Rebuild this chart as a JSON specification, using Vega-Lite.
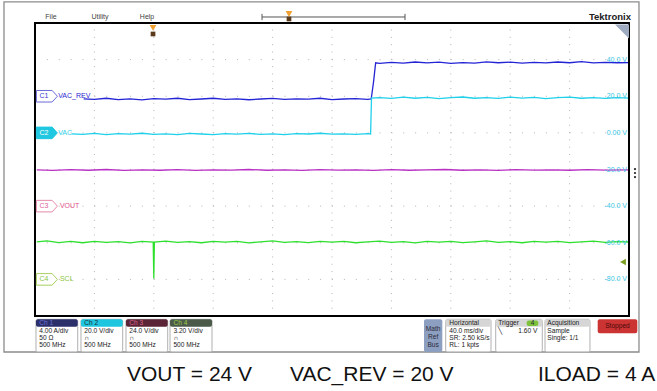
{
 "$schema": "https://vega.github.io/schema/vega-lite/v6.json",
 "width": 657, "height": 391,
 "autosize": {"type": "fit", "contains": "padding"},
 "padding": 0,
 "background": "white",
 "config": {"view": {"stroke": null}, "text": {"font": "Liberation Sans"}},
 "datasets": {
  "border": [{"x": -0.522, "x2": 10.168, "y": 71.5, "y2": -119.66}],
  "frame": [{"x": 0, "x2": 10, "y": -100, "y2": 60}],
  "gridv": [{"x":1,"y":-100,"y2":60},{"x":2,"y":-100,"y2":60},{"x":3,"y":-100,"y2":60},{"x":4,"y":-100,"y2":60},{"x":5,"y":-100,"y2":60},{"x":6,"y":-100,"y2":60},{"x":7,"y":-100,"y2":60},{"x":8,"y":-100,"y2":60},{"x":9,"y":-100,"y2":60}],
  "gridh": [{"x":0,"x2":10,"y":40},{"x":0,"x2":10,"y":20},{"x":0,"x2":10,"y":0},{"x":0,"x2":10,"y":-20},{"x":0,"x2":10,"y":-40},{"x":0,"x2":10,"y":-60},{"x":0,"x2":10,"y":-80}],
  "traces": [
   {"ch":"C1","x":0.82,"y":18.6},{"ch":"C1","x":1.0,"y":18.3},{"ch":"C1","x":1.2,"y":18.9},{"ch":"C1","x":1.4,"y":18.2},{"ch":"C1","x":1.6,"y":18.6},{"ch":"C1","x":1.8,"y":18.0},{"ch":"C1","x":2.0,"y":18.7},{"ch":"C1","x":2.2,"y":18.4},{"ch":"C1","x":2.4,"y":18.9},{"ch":"C1","x":2.6,"y":18.2},{"ch":"C1","x":2.8,"y":18.5},{"ch":"C1","x":3.0,"y":18.9},{"ch":"C1","x":3.2,"y":18.3},{"ch":"C1","x":3.4,"y":18.6},{"ch":"C1","x":3.6,"y":18.1},{"ch":"C1","x":3.8,"y":18.5},{"ch":"C1","x":4.0,"y":18.8},{"ch":"C1","x":4.2,"y":18.3},{"ch":"C1","x":4.4,"y":18.6},{"ch":"C1","x":4.6,"y":18.4},{"ch":"C1","x":4.8,"y":18.9},{"ch":"C1","x":5.0,"y":18.2},{"ch":"C1","x":5.2,"y":18.5},{"ch":"C1","x":5.4,"y":18.7},{"ch":"C1","x":5.6,"y":18.3},{"ch":"C1","x":5.66,"y":18.5},{"ch":"C1","x":5.70,"y":28.0},{"ch":"C1","x":5.735,"y":38.3},{"ch":"C1","x":5.8,"y":38.0},{"ch":"C1","x":6.0,"y":38.5},{"ch":"C1","x":6.2,"y":38.1},{"ch":"C1","x":6.4,"y":38.7},{"ch":"C1","x":6.6,"y":38.2},{"ch":"C1","x":6.8,"y":38.6},{"ch":"C1","x":7.0,"y":38.0},{"ch":"C1","x":7.2,"y":38.4},{"ch":"C1","x":7.4,"y":38.1},{"ch":"C1","x":7.6,"y":38.8},{"ch":"C1","x":7.8,"y":38.3},{"ch":"C1","x":8.0,"y":38.6},{"ch":"C1","x":8.2,"y":38.1},{"ch":"C1","x":8.4,"y":38.5},{"ch":"C1","x":8.6,"y":38.2},{"ch":"C1","x":8.8,"y":38.7},{"ch":"C1","x":9.0,"y":38.3},{"ch":"C1","x":9.2,"y":38.9},{"ch":"C1","x":9.4,"y":38.2},{"ch":"C1","x":9.6,"y":38.5},{"ch":"C1","x":9.8,"y":38.3},{"ch":"C1","x":10.0,"y":38.4},
   {"ch":"C2","x":0.62,"y":-0.5},{"ch":"C2","x":0.8,"y":-0.8},{"ch":"C2","x":1.0,"y":-0.3},{"ch":"C2","x":1.2,"y":-0.9},{"ch":"C2","x":1.4,"y":-0.4},{"ch":"C2","x":1.6,"y":-0.7},{"ch":"C2","x":1.8,"y":-0.2},{"ch":"C2","x":2.0,"y":-0.8},{"ch":"C2","x":2.2,"y":-0.5},{"ch":"C2","x":2.4,"y":-0.9},{"ch":"C2","x":2.6,"y":-0.3},{"ch":"C2","x":2.8,"y":-0.6},{"ch":"C2","x":3.0,"y":-0.9},{"ch":"C2","x":3.2,"y":-0.4},{"ch":"C2","x":3.4,"y":-0.7},{"ch":"C2","x":3.6,"y":-0.3},{"ch":"C2","x":3.8,"y":-0.8},{"ch":"C2","x":4.0,"y":-0.5},{"ch":"C2","x":4.2,"y":-0.9},{"ch":"C2","x":4.4,"y":-0.4},{"ch":"C2","x":4.6,"y":-0.6},{"ch":"C2","x":4.8,"y":-0.2},{"ch":"C2","x":5.0,"y":-0.7},{"ch":"C2","x":5.2,"y":-0.5},{"ch":"C2","x":5.4,"y":-0.8},{"ch":"C2","x":5.6,"y":-0.4},{"ch":"C2","x":5.65,"y":-0.6},{"ch":"C2","x":5.665,"y":19.0},{"ch":"C2","x":5.8,"y":19.3},{"ch":"C2","x":6.0,"y":18.8},{"ch":"C2","x":6.2,"y":19.5},{"ch":"C2","x":6.4,"y":18.9},{"ch":"C2","x":6.6,"y":19.4},{"ch":"C2","x":6.8,"y":18.7},{"ch":"C2","x":7.0,"y":19.2},{"ch":"C2","x":7.2,"y":19.6},{"ch":"C2","x":7.4,"y":18.9},{"ch":"C2","x":7.6,"y":19.3},{"ch":"C2","x":7.8,"y":18.8},{"ch":"C2","x":8.0,"y":19.5},{"ch":"C2","x":8.2,"y":19.0},{"ch":"C2","x":8.4,"y":19.4},{"ch":"C2","x":8.6,"y":18.7},{"ch":"C2","x":8.8,"y":19.2},{"ch":"C2","x":9.0,"y":19.5},{"ch":"C2","x":9.2,"y":18.9},{"ch":"C2","x":9.4,"y":19.3},{"ch":"C2","x":9.6,"y":18.8},{"ch":"C2","x":9.8,"y":19.2},{"ch":"C2","x":10.0,"y":19.0},
   {"ch":"C3","x":0.03,"y":-20.2},{"ch":"C3","x":0.3,"y":-20.5},{"ch":"C3","x":0.6,"y":-20.1},{"ch":"C3","x":0.9,"y":-20.4},{"ch":"C3","x":1.2,"y":-20.0},{"ch":"C3","x":1.5,"y":-20.5},{"ch":"C3","x":1.8,"y":-20.2},{"ch":"C3","x":2.1,"y":-20.4},{"ch":"C3","x":2.4,"y":-20.1},{"ch":"C3","x":2.7,"y":-20.5},{"ch":"C3","x":3.0,"y":-20.2},{"ch":"C3","x":3.3,"y":-20.3},{"ch":"C3","x":3.6,"y":-20.0},{"ch":"C3","x":3.9,"y":-20.4},{"ch":"C3","x":4.2,"y":-20.2},{"ch":"C3","x":4.5,"y":-20.5},{"ch":"C3","x":4.8,"y":-20.1},{"ch":"C3","x":5.1,"y":-20.3},{"ch":"C3","x":5.4,"y":-20.2},{"ch":"C3","x":5.7,"y":-20.5},{"ch":"C3","x":6.0,"y":-20.1},{"ch":"C3","x":6.3,"y":-20.4},{"ch":"C3","x":6.6,"y":-20.2},{"ch":"C3","x":6.9,"y":-20.0},{"ch":"C3","x":7.2,"y":-20.4},{"ch":"C3","x":7.5,"y":-20.2},{"ch":"C3","x":7.8,"y":-20.5},{"ch":"C3","x":8.1,"y":-20.1},{"ch":"C3","x":8.4,"y":-20.3},{"ch":"C3","x":8.7,"y":-20.2},{"ch":"C3","x":9.0,"y":-20.4},{"ch":"C3","x":9.3,"y":-20.1},{"ch":"C3","x":9.6,"y":-20.3},{"ch":"C3","x":10.0,"y":-20.2},
   {"ch":"C4","x":0.03,"y":-59.5},{"ch":"C4","x":0.2,"y":-59.0},{"ch":"C4","x":0.4,"y":-59.9},{"ch":"C4","x":0.6,"y":-59.3},{"ch":"C4","x":0.8,"y":-60.0},{"ch":"C4","x":1.0,"y":-59.2},{"ch":"C4","x":1.2,"y":-59.8},{"ch":"C4","x":1.4,"y":-59.4},{"ch":"C4","x":1.6,"y":-60.1},{"ch":"C4","x":1.8,"y":-59.3},{"ch":"C4","x":1.99,"y":-59.6},{"ch":"C4","x":2.0,"y":-79.5},{"ch":"C4","x":2.01,"y":-59.6},{"ch":"C4","x":2.2,"y":-59.1},{"ch":"C4","x":2.4,"y":-59.8},{"ch":"C4","x":2.6,"y":-59.4},{"ch":"C4","x":2.8,"y":-60.0},{"ch":"C4","x":3.0,"y":-59.2},{"ch":"C4","x":3.2,"y":-59.7},{"ch":"C4","x":3.4,"y":-59.3},{"ch":"C4","x":3.6,"y":-60.1},{"ch":"C4","x":3.8,"y":-59.5},{"ch":"C4","x":4.0,"y":-59.0},{"ch":"C4","x":4.2,"y":-59.8},{"ch":"C4","x":4.4,"y":-59.4},{"ch":"C4","x":4.6,"y":-59.9},{"ch":"C4","x":4.8,"y":-59.2},{"ch":"C4","x":5.0,"y":-59.7},{"ch":"C4","x":5.2,"y":-59.3},{"ch":"C4","x":5.4,"y":-60.0},{"ch":"C4","x":5.6,"y":-59.5},{"ch":"C4","x":5.8,"y":-59.1},{"ch":"C4","x":6.0,"y":-59.8},{"ch":"C4","x":6.2,"y":-59.4},{"ch":"C4","x":6.4,"y":-60.1},{"ch":"C4","x":6.6,"y":-59.3},{"ch":"C4","x":6.8,"y":-59.7},{"ch":"C4","x":7.0,"y":-59.2},{"ch":"C4","x":7.2,"y":-59.9},{"ch":"C4","x":7.4,"y":-59.5},{"ch":"C4","x":7.6,"y":-59.0},{"ch":"C4","x":7.8,"y":-59.8},{"ch":"C4","x":8.0,"y":-59.4},{"ch":"C4","x":8.2,"y":-60.0},{"ch":"C4","x":8.4,"y":-59.3},{"ch":"C4","x":8.6,"y":-59.7},{"ch":"C4","x":8.8,"y":-59.2},{"ch":"C4","x":9.0,"y":-59.9},{"ch":"C4","x":9.2,"y":-59.5},{"ch":"C4","x":9.4,"y":-59.1},{"ch":"C4","x":9.6,"y":-59.8},{"ch":"C4","x":9.8,"y":-59.4},{"ch":"C4","x":10.0,"y":-59.6}
  ],
  "vlabels": [{"x":9.966,"y":40,"t":"40.0 V"},{"x":9.966,"y":20,"t":"20.0 V"},{"x":9.966,"y":0,"t":"0.00 V"},{"x":9.966,"y":-20,"t":"-20.0 V"},{"x":9.966,"y":-40,"t":"-40.0 V"},{"x":9.966,"y":-60,"t":"-60.0 V"},{"x":9.966,"y":-80,"t":"-80.0 V"}],
  "tags": [{"ch":"C1","x":0.2,"y":20,"tx":0.152,"t":"C1"},{"ch":"C2","x":0.2,"y":0,"tx":0.152,"t":"C2"},{"ch":"C3","x":0.2,"y":-40,"tx":0.152,"t":"C3"},{"ch":"C4","x":0.2,"y":-80,"tx":0.152,"t":"C4"}],
  "names": [{"ch":"C1","x":0.39,"y":20,"t":"VAC_REV"},{"ch":"C2","x":0.39,"y":0,"t":"VAC"},{"ch":"C3","x":0.42,"y":-40,"t":"VOUT"},{"ch":"C4","x":0.42,"y":-80,"t":"SCL"}],
  "menu": [{"x":0.269,"y":63.28,"t":"File"},{"x":1.094,"y":63.28,"t":"Utility"},{"x":1.886,"y":63.28,"t":"Help"}],
  "brand": [{"x":10.034,"y":63.28,"t":"Tektronix"}],
  "timeline": [{"x":3.822,"x2":6.229,"y":63.28,"y2":63.28},{"x":3.822,"x2":3.822,"y":61.6,"y2":65.0},{"x":6.229,"x2":6.229,"y":61.6,"y2":65.0}],
  "omark": [{"x":4.276,"y":64.9},{"x":1.987,"y":57.3}],
  "dmark": [{"x":4.276,"y":62.2},{"x":1.987,"y":54.0}],
  "corner": [{"x":9.882,"y":55.36}],
  "dots": [{"x":10.101,"y":-19.73},{"x":10.101,"y":-21.91},{"x":10.101,"y":-24.1}],
  "arrow": [{"x":9.899,"y":-70.51}],
  "boxes": [{"x":0.0168,"x2":0.719,"y":-101.8,"y2":-119.6},{"x":0.774,"x2":1.476,"y":-101.8,"y2":-119.6},{"x":1.532,"x2":2.234,"y":-101.8,"y2":-119.6},{"x":2.273,"x2":2.98,"y":-101.8,"y2":-119.6},{"x":6.914,"x2":7.677,"y":-101.8,"y2":-119.6},{"x":7.756,"x2":8.54,"y":-101.8,"y2":-119.6},{"x":8.586,"x2":9.343,"y":-101.8,"y2":-119.6}],
  "heads": [{"id":"h1","x":0.0168,"x2":0.719,"y":-101.8,"y2":-105.84},{"id":"h2","x":0.774,"x2":1.476,"y":-101.8,"y2":-105.84},{"id":"h3","x":1.532,"x2":2.234,"y":-101.8,"y2":-105.84},{"id":"h4","x":2.273,"x2":2.98,"y":-101.8,"y2":-105.84},{"id":"hg","x":6.914,"x2":7.677,"y":-101.8,"y2":-105.84},{"id":"hg","x":7.756,"x2":8.54,"y":-101.8,"y2":-105.84},{"id":"hg","x":8.586,"x2":9.343,"y":-101.8,"y2":-105.84},{"id":"mrb","x":6.549,"x2":6.857,"y":-101.8,"y2":-119.6},{"id":"stop","x":9.473,"x2":10.14,"y":-101.8,"y2":-109.45},{"id":"badge","x":8.278,"x2":8.473,"y":-102.45,"y2":-105.45}],
  "infol": [
   {"k":"h1","x":0.072,"y":-103.82,"t":"Ch 1"},{"k":"h2","x":0.83,"y":-103.82,"t":"Ch 2"},{"k":"h3","x":1.588,"y":-103.82,"t":"Ch 3"},{"k":"h4","x":2.33,"y":-103.82,"t":"Ch 4"},
   {"k":"d","x":0.072,"y":-108.19,"t":"4.00 A/div"},{"k":"d","x":0.072,"y":-112.18,"t":"50 Ω"},{"k":"d","x":0.072,"y":-116.0,"t":"500 MHz"},
   {"k":"d","x":0.83,"y":-108.19,"t":"20.0 V/div"},{"k":"d","x":0.83,"y":-112.18,"t":"∩"},{"k":"d","x":0.83,"y":-116.0,"t":"500 MHz"},
   {"k":"d","x":1.588,"y":-108.19,"t":"24.0 V/div"},{"k":"d","x":1.588,"y":-112.18,"t":"∩"},{"k":"d","x":1.588,"y":-116.0,"t":"500 MHz"},
   {"k":"d","x":2.33,"y":-108.19,"t":"3.20 V/div"},{"k":"d","x":2.33,"y":-112.18,"t":"∩"},{"k":"d","x":2.33,"y":-116.0,"t":"500 MHz"},
   {"k":"d","x":6.975,"y":-103.82,"t":"Horizontal"},{"k":"d","x":6.975,"y":-108.19,"t":"40.0 ms/div"},{"k":"d","x":6.975,"y":-112.18,"t":"SR: 2.50 kS/s"},{"k":"d","x":6.975,"y":-116.0,"t":"RL: 1 kpts"},
   {"k":"d","x":7.8,"y":-103.82,"t":"Trigger"},{"k":"d","x":7.8,"y":-108.19,"t":"╲"},{"k":"d","x":8.137,"y":-108.19,"t":"1.60 V"},
   {"k":"d","x":8.625,"y":-103.82,"t":"Acquisition"},{"k":"d","x":8.625,"y":-108.19,"t":"Sample"},{"k":"d","x":8.625,"y":-112.18,"t":"Single: 1/1"}
  ],
  "infoc": [{"k":"d","x":6.703,"y":-107.3,"t":"Math"},{"k":"d","x":6.703,"y":-111.6,"t":"Ref"},{"k":"d","x":6.703,"y":-115.9,"t":"Bus"},{"k":"d","x":8.375,"y":-103.95,"t":"4"},{"k":"s","x":9.806,"y":-105.63,"t":"Stopped"}],
  "caption": [{"x":1.549,"y":-132.22,"t":"VOUT = 24 V"},{"x":4.293,"y":-132.22,"t":"VAC_REV = 20 V"},{"x":8.468,"y":-132.22,"t":"ILOAD = 4 A"}]
 },
 "encoding": {
  "x": {"field": "x", "type": "quantitative", "scale": {"domain": [-0.5892, 10.4714], "nice": false, "zero": false}, "axis": null},
  "y": {"field": "y", "type": "quantitative", "scale": {"domain": [-140.95, 72.56], "nice": false, "zero": false}, "axis": null}
 },
 "layer": [
  {"data": {"name": "border"}, "mark": {"type": "rect", "filled": false, "stroke": "#8c8c8c", "strokeWidth": 1.3}, "encoding": {"x2": {"field": "x2"}, "y2": {"field": "y2"}}},
  {"data": {"name": "gridv"}, "mark": {"type": "rule", "color": "#b4b4b4", "strokeWidth": 1, "strokeDash": [1, 6.32]}, "encoding": {"y2": {"field": "y2"}}},
  {"data": {"name": "gridh"}, "mark": {"type": "rule", "color": "#b4b4b4", "strokeWidth": 1, "strokeDash": [1, 10.88]}, "encoding": {"x2": {"field": "x2"}}},
  {"data": {"name": "traces"}, "mark": {"type": "line", "strokeWidth": 1.3, "interpolate": "linear"},
   "encoding": {"color": {"field": "ch", "type": "nominal", "scale": {"domain": ["C1","C2","C3","C4"], "range": ["#2424d6","#1fd0ea","#b830c4","#2ee02e"]}, "legend": null}, "order": {"field": "x", "type": "quantitative"}}},
  {"data": {"name": "frame"}, "mark": {"type": "rect", "filled": false, "stroke": "#000000", "strokeWidth": 2}, "encoding": {"x2": {"field": "x2"}, "y2": {"field": "y2"}}},
  {"data": {"name": "vlabels"}, "mark": {"type": "text", "align": "right", "baseline": "middle", "fontSize": 7, "color": "#35c6e6"}, "encoding": {"text": {"field": "t"}}},
  {"data": {"name": "tags"}, "mark": {"type": "point", "shape": "M-1,-0.55L0.5,-0.55L1,0L0.5,0.55L-1,0.55Z", "size": 441, "filled": true, "strokeWidth": 1, "opacity": 1},
   "encoding": {"fill": {"field": "ch", "type": "nominal", "scale": {"domain": ["C1","C2","C3","C4"], "range": ["#ffffff","#1fc8e0","#ffffff","#ffffff"]}, "legend": null},
                "stroke": {"field": "ch", "type": "nominal", "scale": {"domain": ["C1","C2","C3","C4"], "range": ["#6a6ad8","#1fc8e0","#e58aaa","#a8d060"]}, "legend": null}}},
  {"data": {"name": "tags"}, "mark": {"type": "text", "align": "center", "baseline": "middle", "fontSize": 7},
   "encoding": {"x": {"field": "tx", "type": "quantitative"}, "text": {"field": "t"}, "color": {"field": "ch", "type": "nominal", "scale": {"domain": ["C1","C2","C3","C4"], "range": ["#3a3ad0","#ffffff","#e0609a","#8cc63f"]}, "legend": null}}},
  {"data": {"name": "names"}, "mark": {"type": "text", "align": "left", "baseline": "middle", "fontSize": 7},
   "encoding": {"text": {"field": "t"}, "color": {"field": "ch", "type": "nominal", "scale": {"domain": ["C1","C2","C3","C4"], "range": ["#2a2ad0","#2ad0ea","#e0508a","#8cc63f"]}, "legend": null}}},
  {"data": {"name": "menu"}, "mark": {"type": "text", "align": "center", "baseline": "middle", "fontSize": 7, "color": "#444444"}, "encoding": {"text": {"field": "t"}}},
  {"data": {"name": "brand"}, "mark": {"type": "text", "align": "right", "baseline": "middle", "fontSize": 9.5, "fontWeight": "bold", "color": "#222222"}, "encoding": {"text": {"field": "t"}}},
  {"data": {"name": "timeline"}, "mark": {"type": "rule", "color": "#555555", "strokeWidth": 1}, "encoding": {"x2": {"field": "x2"}, "y2": {"field": "y2"}}},
  {"data": {"name": "omark"}, "mark": {"type": "point", "shape": "triangle-down", "size": 45, "filled": true, "color": "#f0a030", "opacity": 1}},
  {"data": {"name": "dmark"}, "mark": {"type": "point", "shape": "square", "size": 22, "filled": true, "color": "#5a3a1a", "opacity": 1}},
  {"data": {"name": "corner"}, "mark": {"type": "point", "shape": "M-1,-1L1,-1L1,1Z", "size": 196, "filled": true, "color": "#9daabf", "opacity": 1}},
  {"data": {"name": "dots"}, "mark": {"type": "point", "shape": "circle", "size": 5, "filled": true, "color": "#222222", "opacity": 1}},
  {"data": {"name": "arrow"}, "mark": {"type": "point", "shape": "triangle-left", "size": 45, "filled": true, "color": "#7a9e1e", "opacity": 1}},
  {"data": {"name": "boxes"}, "mark": {"type": "rect", "fill": "#ffffff", "stroke": "#b0b0b0", "strokeWidth": 1, "cornerRadius": 2}, "encoding": {"x2": {"field": "x2"}, "y2": {"field": "y2"}}},
  {"data": {"name": "heads"}, "mark": {"type": "rect", "cornerRadius": 2},
   "encoding": {"x2": {"field": "x2"}, "y2": {"field": "y2"}, "fill": {"field": "id", "type": "nominal", "scale": {"domain": ["h1","h2","h3","h4","hg","mrb","stop","badge"], "range": ["#2b2f6a","#1ec6df","#5a2436","#4b5a49","#d6d6d6","#8d9fc0","#cc3333","#7cc23a"]}, "legend": null}}},
  {"data": {"name": "infol"}, "mark": {"type": "text", "align": "left", "baseline": "middle", "fontSize": 6.6},
   "encoding": {"text": {"field": "t"}, "color": {"field": "k", "type": "nominal", "scale": {"domain": ["d","h1","h2","h3","h4"], "range": ["#1a1a1a","#6e72d6","#1a2a33","#d8648e","#9acd45"]}, "legend": null}}},
  {"data": {"name": "infoc"}, "mark": {"type": "text", "align": "center", "baseline": "middle", "fontSize": 6.6},
   "encoding": {"text": {"field": "t"}, "color": {"field": "k", "type": "nominal", "scale": {"domain": ["d","s"], "range": ["#2a2a3a","#4a0b0b"]}, "legend": null}}},
  {"data": {"name": "caption"}, "mark": {"type": "text", "align": "left", "baseline": "middle", "fontSize": 21, "color": "#111111", "font": "Liberation Sans"}, "encoding": {"text": {"field": "t"}}}
 ],
 "resolve": {"scale": {"color": "independent", "fill": "independent", "stroke": "independent"}}
}
